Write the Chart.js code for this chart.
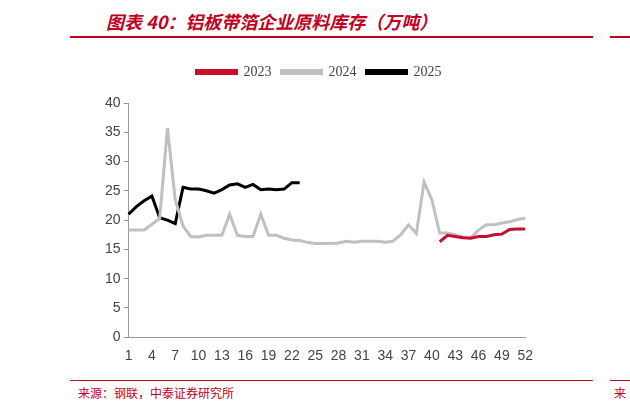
<!DOCTYPE html>
<html lang="zh">
<head>
<meta charset="UTF-8">
<script src="https://cdn.jsdelivr.net/npm/chart.js"></script>
<style>
  body { margin: 0; width: 630px; height: 411px; background: #fff; position: relative; overflow: hidden; font-family: "Noto Sans CJK SC", sans-serif; }
  .title { position: absolute; left: 106px; top: 8px; color: #c00020; font-size: 18px; font-weight: bold; font-style: italic; }
  .rule-top { position: absolute; left: 70px; top: 36px; width: 523px; height: 2px; background: #c00020; }
  .rule-top2 { position: absolute; left: 610px; top: 36px; width: 20px; height: 2px; background: #c00020; }
  .rule-bot { position: absolute; left: 70px; top: 380px; width: 523px; height: 1px; background: #c00020; }
  .rule-bot2 { position: absolute; left: 610px; top: 380px; width: 20px; height: 1px; background: #c00020; }
  .src { position: absolute; left: 78px; top: 384px; font-size: 12px; color: #c00020; }
  .src2 { position: absolute; left: 614px; top: 384px; font-size: 12px; color: #c00020; }
  .wrap { position: absolute; left: 102px; top: 55px; width: 434px; height: 313px; }
</style>
</head>
<body>
<div class="title">图表 40：铝板带箔企业原料库存（万吨）</div>
<div class="rule-top"></div><div class="rule-top2"></div>
<div class="wrap"><canvas id="c"></canvas></div>
<div class="rule-bot"></div><div class="rule-bot2"></div>
<div class="src">来源：钢联，中泰证券研究所</div>
<div class="src2">来</div>
<script>
const weeks = Array.from({length: 52}, (_, i) => String(i + 1));
const s2023 = [null,null,null,null,null,null,null,null,null,null,null,null,null,null,null,null,null,null,null,null,
  null,null,null,null,null,null,null,null,null,null,null,null,null,null,null,null,null,null,null,null,
  16.3,17.4,17.2,17.0,16.9,17.2,17.2,17.5,17.6,18.4,18.5,18.5];
const s2024 = [18.3,18.3,18.3,19.3,20.3,35.7,23.5,19.0,17.2,17.1,17.4,17.4,17.4,21.0,17.4,17.2,17.2,21.0,17.4,17.4,
  16.9,16.6,16.5,16.2,16.0,16.0,16.0,16.1,16.4,16.2,16.4,16.4,16.4,16.2,16.4,17.5,19.2,17.7,26.5,23.5,
  17.8,17.8,17.5,17.1,17.0,18.3,19.2,19.2,19.5,19.7,20.1,20.3];
const s2025 = [21.0,22.3,23.3,24.1,20.4,20.0,19.4,25.6,25.3,25.3,25.0,24.6,25.2,26.0,26.2,25.6,26.1,25.2,25.3,25.2,
  25.3,26.4,26.4];

const legendGap = {
  id: 'legendGap',
  beforeInit(chart) {
    const fit = chart.legend.fit;
    chart.legend.fit = function() { fit.bind(chart.legend)(); this.height += 14; };
  }
};

new Chart(document.getElementById('c'), {
  type: 'line',
  data: {
    labels: weeks,
    datasets: [
      { label: '2023', data: s2023, borderColor: '#c8102e', backgroundColor: '#c8102e', borderWidth: 3, pointRadius: 0, tension: 0 },
      { label: '2024', data: s2024, borderColor: '#c0c0c0', backgroundColor: '#c0c0c0', borderWidth: 3, pointRadius: 0, tension: 0 },
      { label: '2025', data: s2025, borderColor: '#000000', backgroundColor: '#000000', borderWidth: 3, pointRadius: 0, tension: 0 }
    ]
  },
  plugins: [legendGap],
  options: {
    responsive: true,
    maintainAspectRatio: false,
    animation: false,
    plugins: {
      legend: {
        position: 'top',
        labels: { boxWidth: 40, boxHeight: 3, color: '#444', font: { family: 'Liberation Serif', size: 14 } }
      },
      tooltip: { enabled: false }
    },
    scales: {
      x: {
        grid: { display: false },
        border: { color: '#999' },
        ticks: { color: '#444', autoSkip: false, maxRotation: 0, font: { family: 'Liberation Sans', size: 14 },
          callback: function(v, i) { return i % 3 === 0 ? weeks[i] : ''; } }
      },
      y: {
        min: 0, max: 40,
        grid: { display: true, drawOnChartArea: false, drawTicks: true, tickLength: 5, color: '#999' },
        border: { color: '#999' },
        ticks: { stepSize: 5, color: '#444', font: { family: 'Liberation Sans', size: 14 } }
      }
    }
  }
});
</script>
</body>
</html>
